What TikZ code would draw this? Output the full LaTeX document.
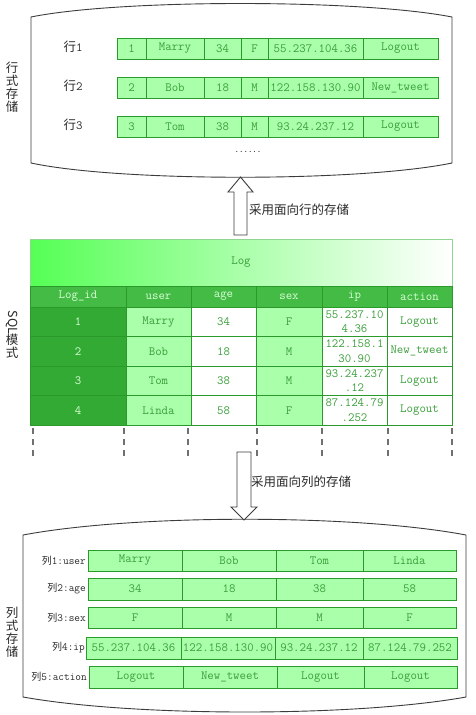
\documentclass[tikz,border=0pt]{standalone}
\usepackage{fontspec}
\newfontfamily\cjk{Noto Sans CJK SC}
\definecolor{lgreen}{HTML}{AAFFAA}
\definecolor{bgreen}{HTML}{2A9A2A}
\definecolor{tgreen}{HTML}{3A9F3A}
\definecolor{hgreen}{HTML}{44BB44}
\definecolor{dgreen}{HTML}{33AA33}
\definecolor{pgreen}{HTML}{D8FFD8}
\definecolor{brightg}{HTML}{55FF55}
\definecolor{shapegray}{HTML}{3C3C3C}
\definecolor{labgray}{HTML}{2A2A2A}
\definecolor{dashgray}{HTML}{707070}
\newcommand\cellbox[7]{%
  \node[#1, minimum width={#4-#3}, minimum height={#6-#5}] (#2) at ({(#3+#4)/2},{(#5+#6)/2}) {#7};}
\begin{document}
\begin{tikzpicture}[x=1pt,y=-1pt,
  cell/.style={draw=bgreen, line width=0.9pt, fill=lgreen, text=tgreen, inner sep=0pt,
    font=\ttfamily\fontsize{12.5}{13}\selectfont},
  ccell/.style={cell},
  tcell/.style={draw=bgreen, line width=0.8pt, inner sep=0pt, text=tgreen, align=center,
    font=\ttfamily\fontsize{12.5}{14.5}\selectfont},
  darkcol/.style={tcell, fill=dgreen, text=pgreen},
  lightcol/.style={tcell, fill=lgreen},
  whitecol/.style={tcell, fill=white},
  headcell/.style={tcell, fill=hgreen, text=pgreen},
  rowlab/.style={text=labgray, inner sep=0pt, font=\ttfamily\fontsize{12.5}{13}\selectfont},
  collab/.style={text=labgray, inner sep=0pt, anchor=east, font=\ttfamily\fontsize{11}{12}\selectfont},
  vlabel/.style={text=labgray, inner sep=0pt, align=center, font=\cjk\fontsize{12.5}{13}\selectfont},
  arrlab/.style={text=labgray, inner sep=0pt, anchor=west, font=\cjk\fontsize{12.5}{13}\selectfont},
  storeshape/.style={draw=shapegray, line width=0.9pt, fill=white},
  blockarrow/.style={draw=shapegray, line width=0.9pt, fill=white},
  dashline/.style={draw=dashgray, line width=1.1pt, dash pattern=on 6pt off 5pt}
]
\useasboundingbox (0,0) rectangle (476,715);
\fill[white] (0,0) rectangle (476,715);

% ---------- row storage ----------
\path[storeshape] (31,17) .. controls (120,-1) and (360,-1) .. (452,17)
  -- (452,163) .. controls (360,182) and (120,182) .. (31,163) -- cycle;
\node[vlabel] (rowstore) at (12,87) {行\\式\\存\\储};

\node[rowlab] (l1) at (73,47) {{\cjk 行}1};
\node[rowlab] (l2) at (73,86) {{\cjk 行}2};
\node[rowlab] (l3) at (73,125) {{\cjk 行}3};

\cellbox{cell}{r1c1}{117}{146}{38}{59}{1}
\cellbox{cell}{r1c2}{146}{204}{38}{59}{Marry}
\cellbox{cell}{r1c3}{204}{241}{38}{59}{34}
\cellbox{cell}{r1c4}{241}{268}{38}{59}{F}
\cellbox{cell}{r1c5}{268}{363}{38}{59}{55.237.104.36}
\cellbox{cell}{r1c6}{363}{438}{38}{59}{Logout}

\cellbox{cell}{r2c1}{117}{146}{77}{98}{2}
\cellbox{cell}{r2c2}{146}{204}{77}{98}{Bob}
\cellbox{cell}{r2c3}{204}{241}{77}{98}{18}
\cellbox{cell}{r2c4}{241}{268}{77}{98}{M}
\cellbox{cell}{r2c5}{268}{363}{77}{98}{122.158.130.90}
\cellbox{cell}{r2c6}{363}{438}{77}{98}{New\_tweet}

\cellbox{cell}{r3c1}{117}{146}{116}{137}{3}
\cellbox{cell}{r3c2}{146}{204}{116}{137}{Tom}
\cellbox{cell}{r3c3}{204}{241}{116}{137}{38}
\cellbox{cell}{r3c4}{241}{268}{116}{137}{M}
\cellbox{cell}{r3c5}{268}{363}{116}{137}{93.24.237.12}
\cellbox{cell}{r3c6}{363}{438}{116}{137}{Logout}

\node[text=labgray, inner sep=0pt, font=\ttfamily\bfseries\fontsize{8.5}{9}\selectfont] (dots) at (248,152) {......};

% ---------- up arrow ----------
\path[blockarrow] (234,235) -- (234,192) -- (228,192) -- (240.5,177) -- (253,192)
  -- (247,192) -- (247,235) -- cycle;
\node[arrlab] (uplab) at (249,210) {采用面向行的存储};

% ---------- SQL table ----------
\node[draw=green!45!gray!60, line width=0.6pt, left color=brightg, right color=white,
  minimum width=422, minimum height=47, inner sep=0pt, text=tgreen,
  font=\ttfamily\fontsize{12.5}{13}\selectfont] (title) at (241,262.5) {Log};

\cellbox{headcell}{h1}{30}{126}{286}{307}{Log\_id}
\cellbox{headcell}{h2}{126}{191}{286}{307}{user}
\cellbox{headcell}{h3}{191}{256}{286}{307}{age}
\cellbox{headcell}{h4}{256}{322}{286}{307}{sex}
\cellbox{headcell}{h5}{322}{387}{286}{307}{ip}
\cellbox{headcell}{h6}{387}{452}{286}{307}{action}

\cellbox{darkcol}{t1c1}{30}{126}{307}{336.5}{1}
\cellbox{lightcol}{t1c2}{126}{191}{307}{336.5}{Marry}
\cellbox{whitecol}{t1c3}{191}{256}{307}{336.5}{34}
\cellbox{lightcol}{t1c4}{256}{322}{307}{336.5}{F}
\cellbox{whitecol}{t1c5}{322}{387}{307}{336.5}{55.237.10\\4.36}
\cellbox{whitecol}{t1c6}{387}{452}{307}{336.5}{Logout}

\cellbox{darkcol}{t2c1}{30}{126}{336.5}{366}{2}
\cellbox{lightcol}{t2c2}{126}{191}{336.5}{366}{Bob}
\cellbox{whitecol}{t2c3}{191}{256}{336.5}{366}{18}
\cellbox{lightcol}{t2c4}{256}{322}{336.5}{366}{M}
\cellbox{whitecol}{t2c5}{322}{387}{336.5}{366}{122.158.1\\30.90}
\cellbox{whitecol}{t2c6}{387}{452}{336.5}{366}{New\_tweet}

\cellbox{darkcol}{t3c1}{30}{126}{366}{395.5}{3}
\cellbox{lightcol}{t3c2}{126}{191}{366}{395.5}{Tom}
\cellbox{whitecol}{t3c3}{191}{256}{366}{395.5}{38}
\cellbox{lightcol}{t3c4}{256}{322}{366}{395.5}{M}
\cellbox{whitecol}{t3c5}{322}{387}{366}{395.5}{93.24.237\\.12}
\cellbox{whitecol}{t3c6}{387}{452}{366}{395.5}{Logout}

\cellbox{darkcol}{t4c1}{30}{126}{395.5}{425}{4}
\cellbox{lightcol}{t4c2}{126}{191}{395.5}{425}{Linda}
\cellbox{whitecol}{t4c3}{191}{256}{395.5}{425}{58}
\cellbox{lightcol}{t4c4}{256}{322}{395.5}{425}{F}
\cellbox{whitecol}{t4c5}{322}{387}{395.5}{425}{87.124.79\\.252}
\cellbox{whitecol}{t4c6}{387}{452}{395.5}{425}{Logout}

\node[vlabel] (sqllab) at (12,335) {\rotatebox{-90}{SQL}\\[-1pt]模\\式};

\foreach \xx in {33,124,188,257,322,388,452}
  \draw[dashline] (\xx,428) -- (\xx,460);

% ---------- column storage ----------
\path[storeshape] (23,535) .. controls (135,514) and (355,514) .. (466,535)
  -- (466,697) .. controls (355,717) and (135,717) .. (23,697) -- cycle;

\path[blockarrow] (237,452) -- (237,507) -- (231,507) -- (244,520) -- (257,507)
  -- (251,507) -- (251,452) -- cycle;
\node[arrlab] (downlab) at (251,482) {采用面向列的存储};

\node[vlabel] (colstore) at (12,632) {列\\式\\存\\储};

\node[collab] (cl1) at (86,561) {{\cjk\fontsize{10}{11}\selectfont 列}1:user};
\node[collab] (cl2) at (86,589) {{\cjk\fontsize{10}{11}\selectfont 列}2:age};
\node[collab] (cl3) at (86,618) {{\cjk\fontsize{10}{11}\selectfont 列}3:sex};
\node[collab] (cl4) at (85,648) {{\cjk\fontsize{10}{11}\selectfont 列}4:ip};
\node[collab] (cl5) at (87,677) {{\cjk\fontsize{10}{11}\selectfont 列}5:action};

\cellbox{ccell}{k1c1}{88}{182}{550}{571}{Marry}
\cellbox{ccell}{k1c2}{182}{276}{550}{571}{Bob}
\cellbox{ccell}{k1c3}{276}{363}{550}{571}{Tom}
\cellbox{ccell}{k1c4}{363}{456}{550}{571}{Linda}

\cellbox{ccell}{k2c1}{88}{182}{578}{600}{34}
\cellbox{ccell}{k2c2}{182}{276}{578}{600}{18}
\cellbox{ccell}{k2c3}{276}{363}{578}{600}{38}
\cellbox{ccell}{k2c4}{363}{456}{578}{600}{58}

\cellbox{ccell}{k3c1}{88}{182}{607}{628}{F}
\cellbox{ccell}{k3c2}{182}{276}{607}{628}{M}
\cellbox{ccell}{k3c3}{276}{363}{607}{628}{M}
\cellbox{ccell}{k3c4}{363}{456}{607}{628}{F}

\cellbox{ccell}{k4c1}{86}{181}{637}{659}{55.237.104.36}
\cellbox{ccell}{k4c2}{181}{275}{637}{659}{122.158.130.90}
\cellbox{ccell}{k4c3}{275}{363}{637}{659}{93.24.237.12}
\cellbox{ccell}{k4c4}{363}{457}{637}{659}{87.124.79.252}

\cellbox{ccell}{k5c1}{89}{183}{666}{688}{Logout}
\cellbox{ccell}{k5c2}{183}{277}{666}{688}{New\_tweet}
\cellbox{ccell}{k5c3}{277}{364}{666}{688}{Logout}
\cellbox{ccell}{k5c4}{364}{457}{666}{688}{Logout}
\end{tikzpicture}
\end{document}
